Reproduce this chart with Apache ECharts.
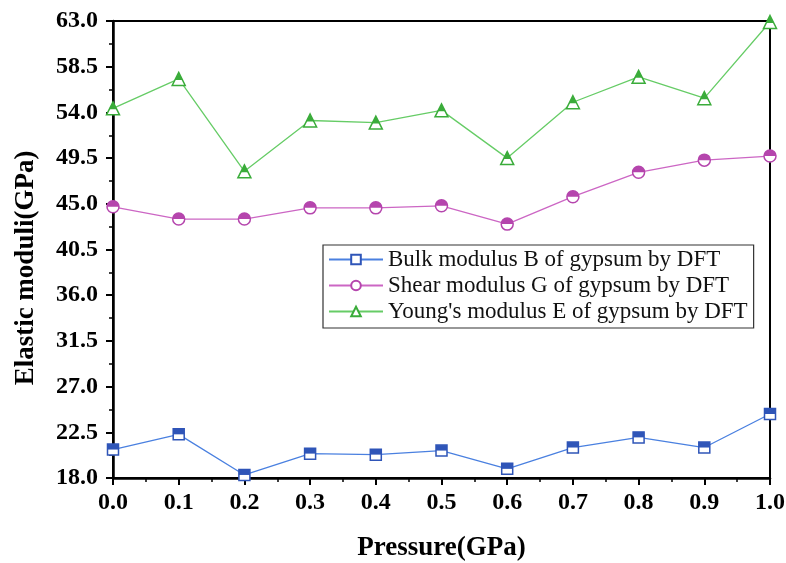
<!DOCTYPE html>
<html>
<head>
<meta charset="utf-8">
<script src="https://cdn.jsdelivr.net/npm/echarts@6/dist/echarts.min.js"></script>
<style>html,body{margin:0;padding:0;background:#fff}#c{width:786px;height:563px}</style>
</head>
<body>
<div id="c"></div>
<script>
const pressure = [0.0, 0.1, 0.2, 0.3, 0.4, 0.5, 0.6, 0.7, 0.8, 0.9, 1.0];
const bulkB   = [20.8, 22.3, 18.3, 20.4, 20.3, 20.7, 18.9, 21.0, 22.0, 21.0, 24.3];
const shearG  = [44.7, 43.5, 43.5, 44.6, 44.6, 44.8, 43.0, 45.7, 48.1, 49.3, 49.7];
const youngE  = [54.4, 57.3, 48.2, 53.2, 53.0, 54.2, 49.5, 55.0, 57.5, 55.4, 62.9];
const names = ['Bulk modulus B of gypsum by DFT', 'Shear modulus G of gypsum by DFT', "Young's modulus E of gypsum by DFT"];

const pairs = v => pressure.map((p, i) => [p, v[i]]);
const serif = '"Liberation Serif", "Times New Roman", serif';

function mainSeries(name, vals, color, mcolor, symbol, size) {
  return {
    name: name, type: 'line', data: pairs(vals),
    symbol: symbol, symbolSize: size,
    lineStyle: {color: color, width: 1.3},
    itemStyle: {color: '#fff', borderColor: mcolor, borderWidth: 1.5},
    z: 3
  };
}
function halfSeries(name, vals, mcolor, symbol, size, offset) {
  return {
    name: name, type: 'line', data: pairs(vals),
    symbol: symbol, symbolSize: size, symbolOffset: offset,
    lineStyle: {opacity: 0, width: 0},
    itemStyle: {color: mcolor, borderWidth: 0},
    z: 4, silent: true
  };
}

const chart = echarts.init(document.getElementById('c'));
chart.setOption({
  animation: false,
  textStyle: {fontFamily: serif},
  grid: {left: 113, right: 16, top: 21, bottom: 85, show: true, borderColor: '#000', borderWidth: 2,
    containLabel: false, outerBoundsMode: 'none'},
  xAxis: {
    type: 'value', min: 0, max: 1, interval: 0.1,
    name: 'Pressure(GPa)', nameLocation: 'middle', nameGap: 57,
    nameTextStyle: {fontFamily: serif, fontWeight: 'bold', fontSize: 27, color: '#000'},
    axisLine: {lineStyle: {color: '#000', width: 2.5}},
    axisTick: {inside: false, length: 7, lineStyle: {color: '#000', width: 2}},
    minorTick: {show: true, splitNumber: 2, length: 4, lineStyle: {color: '#000', width: 1.5}},
    splitLine: {show: false},
    axisLabel: {fontFamily: serif, fontWeight: 'bold', fontSize: 24, color: '#000', margin: 13,
      formatter: v => v.toFixed(1)}
  },
  yAxis: {
    type: 'value', min: 18, max: 63, interval: 4.5,
    name: 'Elastic moduli(GPa)', nameLocation: 'middle', nameGap: 73,
    nameTextStyle: {fontFamily: serif, fontWeight: 'bold', fontSize: 27, color: '#000', padding: [0, 37, 0, 0]},
    axisLine: {show: true, lineStyle: {color: '#000', width: 2.5}},
    axisTick: {show: true, inside: false, length: 7, lineStyle: {color: '#000', width: 2}},
    minorTick: {show: true, splitNumber: 2, length: 4, lineStyle: {color: '#000', width: 1.5}},
    splitLine: {show: false},
    axisLabel: {fontFamily: serif, fontWeight: 'bold', fontSize: 24, color: '#000', margin: 15,
      formatter: v => v.toFixed(1)}
  },
  legend: {
    data: names, orient: 'vertical', left: 323, top: 245,
    padding: [3, 6, 5, 5], itemGap: 3,
    itemWidth: 54, itemHeight: 12,
    borderColor: '#333', borderWidth: 1.2, backgroundColor: '#fff',
    textStyle: {fontFamily: serif, fontSize: 23, color: '#111', padding: [0, 0, 0, 0]}
  },
  series: [
    mainSeries(names[0], bulkB, '#4a80e0', '#2f55b8', 'rect', 11),
    halfSeries(names[0], bulkB, '#2f55b8', 'rect', [11, 5.5], [0, -2.75]),
    mainSeries(names[1], shearG, '#cc66c4', '#b545ad', 'circle', 12),
    halfSeries(names[1], shearG, '#b545ad', 'path://M0,10 A10,10 0 0 1 20,10 Z', [12, 6], [0, -3]),
    mainSeries(names[2], youngE, '#66cc66', '#3aac3a', 'triangle', 13),
    halfSeries(names[2], youngE, '#3aac3a', 'triangle', [8, 7], [0, -2.5])
  ]
});
</script>
</body>
</html>
